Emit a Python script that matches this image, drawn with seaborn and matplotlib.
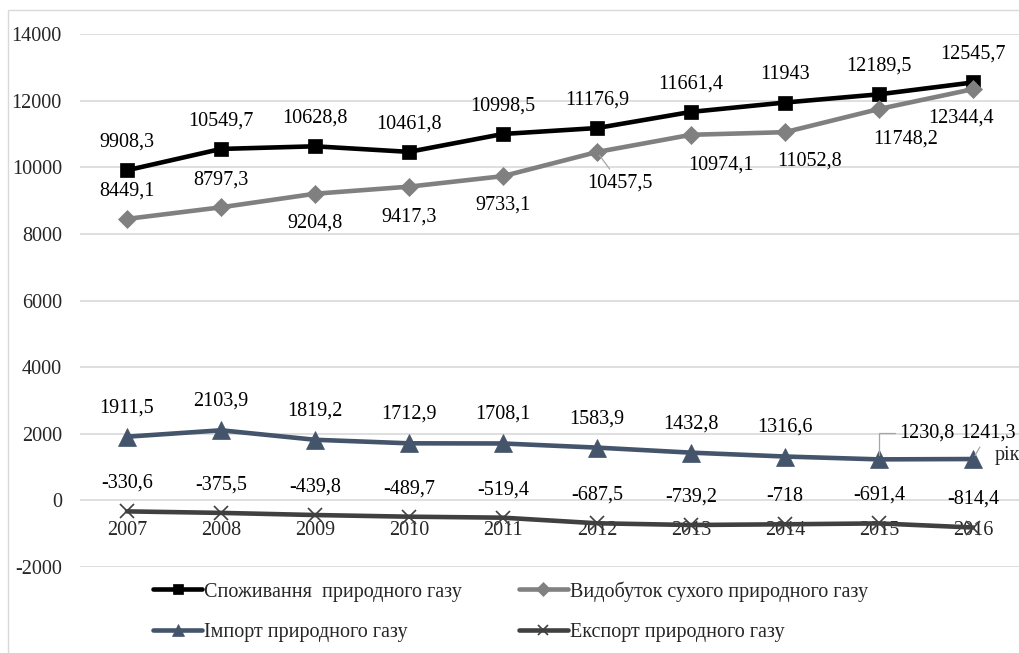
import matplotlib
matplotlib.use('Agg')
import matplotlib.pyplot as plt
import seaborn as sns
import pandas as pd
from matplotlib.patches import Rectangle
from matplotlib.ticker import FuncFormatter

years = [2007, 2008, 2009, 2010, 2011, 2012, 2013, 2014, 2015, 2016]
consumption = [9908.3, 10549.7, 10628.8, 10461.8, 10998.5, 11176.9, 11661.4, 11943, 12189.5, 12545.7]
production = [8449.1, 8797.3, 9204.8, 9417.3, 9733.1, 10457.5, 10974.1, 11052.8, 11748.2, 12344.4]
imports = [1911.5, 2103.9, 1819.2, 1712.9, 1708.1, 1583.9, 1432.8, 1316.6, 1230.8, 1241.3]
exports = [-330.6, -375.5, -439.8, -489.7, -519.4, -687.5, -739.2, -718, -691.4, -814.4]

names = ['Споживання  природного газу', 'Видобуток сухого природного газу',
         'Імпорт природного газу', 'Експорт природного газу']

# label offsets in pixels (dx, dy) relative to each point
cons_off = [(0, 28)] * 10
prod_off = [(0, 28), (0, 27), (0, -29), (0, -30), (0, -29), (23, -31), (30, -30), (25, -29), (27, -30), (-12, -29)]
imp_off = [(0, 29)] * 8 + [(48, 26), (15, 26)]
exp_off = [(0, 28)] * 10
leaders = {('prod', 5): 'arc3', ('imp', 8): 'angle,angleA=0,angleB=90,rad=0', ('imp', 9): 'arc3'}

sns.set_style('white')
plt.rcParams['font.family'] = ['Liberation Serif', 'DejaVu Serif']
plt.rcParams['axes.unicode_minus'] = False

fig = plt.figure(figsize=(10.19, 6.53), dpi=100)
fig.patches.append(Rectangle((8 / 1019, -0.02), 1.0, 1 - 10 / 653 + 0.02, transform=fig.transFigure,
                             fill=False, edgecolor='#D9D9D9', lw=1))
ax = fig.add_axes([80 / 1019, 1 - 567 / 653, 940 / 1019, 533 / 653])

series = [
    ('cons', consumption, names[0], '#000000', 's', 9.5, cons_off),
    ('prod', production, names[1], '#808080', 'D', 9.5, prod_off),
    ('imp', imports, names[2], '#44546A', '^', 13, imp_off),
    ('exp', exports, names[3], '#404040', 'x', 10.5, exp_off),
]

fs = 14.5
for key, vals, name, col, mk, ms, offs in series:
    df = pd.DataFrame({'year': years, 'value': vals})
    sns.lineplot(data=df, x='year', y='value', ax=ax, color=col, linewidth=3.3, marker=mk,
                 markersize=ms, markeredgecolor=col, markerfacecolor=col,
                 markeredgewidth=1.2 if mk == 'x' else 0.5, label=name, zorder=3)
    for i, (yr, v) in enumerate(zip(years, vals)):
        txt = f'{v:g}'.replace('.', ',')
        kw = {}
        if (key, i) in leaders:
            kw['arrowprops'] = dict(arrowstyle='-', color='#A6A6A6', lw=0.9, shrinkA=1, shrinkB=3,
                                    connectionstyle=leaders[(key, i)])
        ax.annotate(txt, (yr, v), xytext=offs[i], textcoords='offset pixels', ha='center',
                    va='center', fontsize=fs, color='#000000', zorder=4, **kw)

ax.set_xlim(2006.5, 2016.5)
ax.set_ylim(-2000, 14000)
ax.set_yticks(range(-2000, 14001, 2000))
ax.set_xticks(years)
ax.yaxis.set_major_formatter(FuncFormatter(lambda v, p: f'{v:.0f}'))
ax.set_xlabel('')
ax.set_ylabel('')
ax.yaxis.grid(True, color='#D9D9D9', lw=1.2, zorder=0)
ax.xaxis.grid(False)
ax.spines['bottom'].set_position(('data', 0))
for s in ax.spines.values():
    s.set_visible(False)
ax.tick_params(axis='x', length=0, pad=15, labelsize=fs)
ax.tick_params(axis='y', length=0, pad=13, labelsize=fs)
ax.set_facecolor('none')
ax.text(2016.23, 1350, 'рік', ha='left', va='center', fontsize=fs, clip_on=False)

h, l = ax.get_legend_handles_labels()
order = [0, 2, 1, 3]
leg = ax.legend([h[i] for i in order], [l[i] for i in order], ncol=2, frameon=False,
                loc='upper left', bbox_to_anchor=(153 / 1019, 1 - 581 / 653),
                bbox_transform=fig.transFigure, fontsize=fs, handlelength=2.45,
                handletextpad=0.1, columnspacing=2.8, labelspacing=1.05, borderpad=0,
                borderaxespad=0)
for ln in leg.get_lines():
    ln.set_markersize(ln.get_markersize() * 0.7)

fig.savefig('out.png', dpi=100)
